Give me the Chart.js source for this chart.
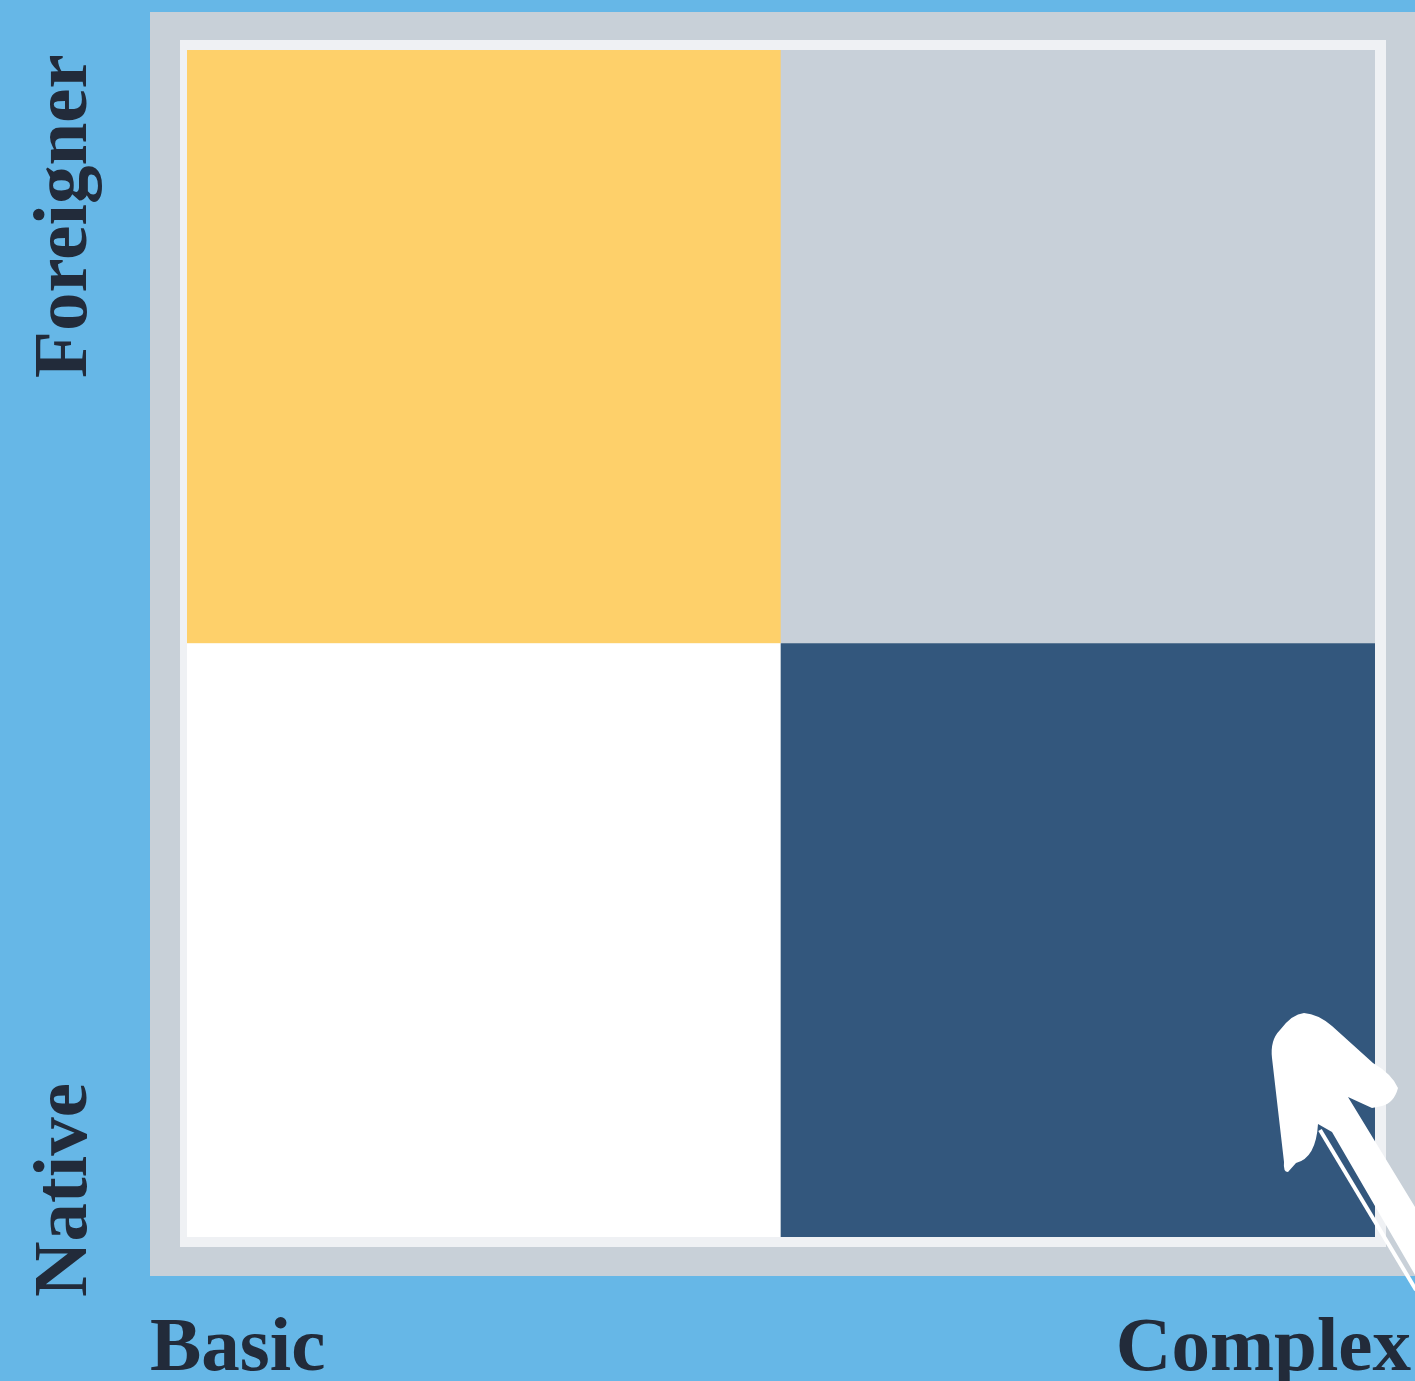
<!DOCTYPE html>
<html>
<head>
<meta charset="utf-8">
<script src="https://cdn.jsdelivr.net/npm/chart.js@4/dist/chart.umd.min.js"></script>
<style>
  html, body { margin: 0; padding: 0; background: #66b7e7; }
  canvas { display: block; }
</style>
</head>
<body>
<canvas id="quadChart" width="1415" height="1381"></canvas>
<script>
// quadrant categories
const xLabels = ['Basic', 'Complex'];
const yLabels = ['Native', 'Foreigner'];
// each cell is one equal unit
const nativeValues = [1, 1];
const foreignerValues = [1, 1];

const LABEL_COLOR = '#222b3a';
const LABEL_FONT = 'bold 77px "Liberation Serif", serif';

// frame behind the quadrants
const framePlugin = {
  id: 'frame',
  beforeDraw(chart) {
    const ctx = chart.ctx;
    ctx.save();
    ctx.fillStyle = '#66b7e7';
    ctx.fillRect(0, 0, chart.width, chart.height);
    ctx.fillStyle = '#c8d0d8';
    ctx.fillRect(150, 12, chart.width - 150, 1264);
    ctx.fillStyle = '#eff1f4';
    ctx.fillRect(180, 40, 1206, 1207);
    ctx.restore();
  }
};

// axis words and the hand drawn arrow
const labelPlugin = {
  id: 'quadLabels',
  afterDraw(chart) {
    const ctx = chart.ctx;
    ctx.save();
    ctx.fillStyle = LABEL_COLOR;
    ctx.font = LABEL_FONT;
    ctx.textBaseline = 'alphabetic';

    ctx.textAlign = 'left';
    ctx.fillText(xLabels[0], 150, 1370);
    ctx.textAlign = 'right';
    ctx.fillText(xLabels[1], 1411, 1370);

    ctx.textAlign = 'left';
    ctx.save();
    ctx.translate(86, 378);
    ctx.rotate(-Math.PI / 2);
    ctx.fillText(yLabels[1], 0, 0);
    ctx.restore();
    ctx.save();
    ctx.translate(86, 1297);
    ctx.rotate(-Math.PI / 2);
    ctx.fillText(yLabels[0], 0, 0);
    ctx.restore();

    // arrow
    ctx.fillStyle = '#ffffff';
    ctx.beginPath();
    ctx.moveTo(1304, 1013);
    ctx.quadraticCurveTo(1318, 1014, 1332, 1026);
    ctx.lineTo(1373, 1063);
    ctx.quadraticCurveTo(1392, 1074, 1398, 1088);
    ctx.quadraticCurveTo(1394, 1103, 1382, 1106);
    ctx.lineTo(1372, 1108);
    ctx.lineTo(1348, 1097);
    ctx.lineTo(1415, 1207);
    ctx.lineTo(1415, 1275);
    ctx.lineTo(1332, 1132);
    ctx.lineTo(1318, 1124);
    ctx.quadraticCurveTo(1316, 1158, 1296, 1163);
    ctx.lineTo(1288, 1172);
    ctx.quadraticCurveTo(1283, 1172, 1284, 1162);
    ctx.lineTo(1272, 1058);
    ctx.quadraticCurveTo(1270, 1040, 1280, 1030);
    ctx.quadraticCurveTo(1292, 1014, 1304, 1013);
    ctx.closePath();
    ctx.fill();

    ctx.strokeStyle = '#ffffff';
    ctx.lineWidth = 4;
    ctx.beginPath();
    ctx.moveTo(1320, 1130);
    ctx.lineTo(1416, 1290);
    ctx.stroke();
    ctx.restore();
  }
};

new Chart(document.getElementById('quadChart'), {
  type: 'bar',
  data: {
    labels: xLabels,
    datasets: [
      {
        label: yLabels[0],
        data: nativeValues,
        backgroundColor: ['#ffffff', '#33577d'],
        borderWidth: 0
      },
      {
        label: yLabels[1],
        data: foreignerValues,
        backgroundColor: ['#fed06a', '#c8d0d9'],
        borderWidth: 0
      }
    ]
  },
  options: {
    responsive: false,
    animation: false,
    devicePixelRatio: 1,
    barPercentage: 1,
    categoryPercentage: 1,
    layout: { padding: { left: 187, right: 40, top: 50, bottom: 144 } },
    plugins: {
      legend: { display: false },
      tooltip: { enabled: false }
    },
    scales: {
      x: { stacked: true, display: false },
      y: { stacked: true, display: false, min: 0, max: 2 }
    }
  },
  plugins: [framePlugin, labelPlugin]
});
</script>
</body>
</html>
